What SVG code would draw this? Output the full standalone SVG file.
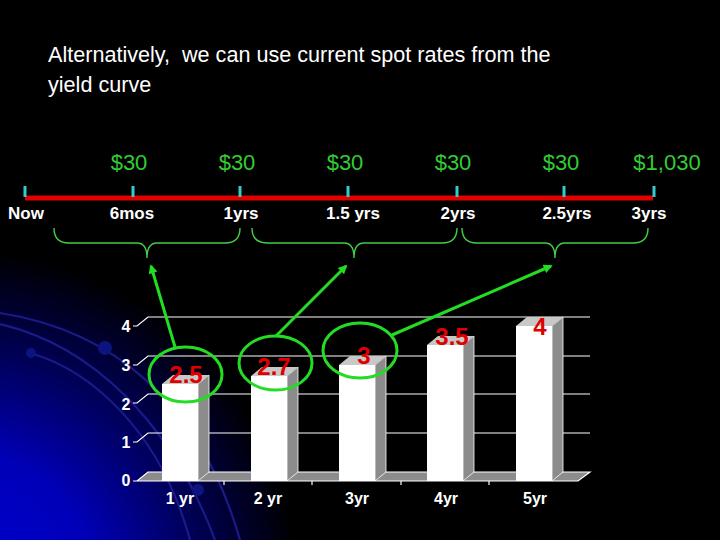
<svg xmlns="http://www.w3.org/2000/svg" width="720" height="540" viewBox="0 0 720 540">
<defs>
<radialGradient id="bg" gradientUnits="userSpaceOnUse" cx="-40" cy="590" r="340">
<stop offset="0" stop-color="#0000d4"/>
<stop offset="0.4" stop-color="#0000b8"/>
<stop offset="0.7" stop-color="#000058"/>
<stop offset="1" stop-color="#000000"/>
</radialGradient>
<marker id="ah" viewBox="0 0 10 10" refX="8" refY="5" markerWidth="3.6" markerHeight="3" orient="auto">
<path d="M0,0 L10,5 L0,10 z" fill="#22dd22"/>
</marker>
<style>
.t{font-family:"Liberation Sans",Arial,sans-serif;}
.title{font-size:21.6px;fill:#ffffff;}
.money{font-size:22px;fill:#33cc33;text-anchor:middle;}
.tl{font-size:17px;font-weight:bold;fill:#ffffff;text-anchor:middle;}
.ax{font-size:16px;font-weight:bold;fill:#ffffff;text-anchor:middle;}
.val{font-size:24px;font-weight:bold;fill:#e00000;text-anchor:middle;}
.tick{stroke:#33cccc;stroke-width:3;}
.brace{fill:none;stroke:#44cc44;stroke-width:1.4;}
.grid{stroke:#ffffff;stroke-width:1.2;fill:none;}
.front{fill:#ffffff;}
.top{fill:#c8c8c8;}
.side{fill:#8c8c8c;stroke:#ffffff;stroke-width:0.8;}
.ring{fill:none;stroke:#22dd22;stroke-width:3;}
.arrow{stroke:#22dd22;stroke-width:3;fill:none;}
.arc{fill:none;stroke:#1a1a88;stroke-width:2.2;}
.dot{fill:#0c1480;}
</style>
</defs>
<rect width="720" height="540" fill="#000000"/>
<rect width="720" height="540" fill="url(#bg)"/>
<g id="background-arcs">
<path class="arc" d="M 0 313 C 110 330 200 400 240 540"/>
<path class="arc" d="M 0 324 C 90 345 170 420 215 540"/>
<path class="arc" d="M 30 353 C 90 370 160 430 190 540"/>
<circle class="dot" cx="31" cy="353" r="5"/>
<circle class="dot" cx="105" cy="348" r="7"/>
<circle class="dot" cx="198" cy="490" r="6"/>
</g>
<g id="title">
<text class="t title" x="48" y="62" xml:space="preserve">Alternatively,  we can use current spot rates from the</text>
<text class="t title" x="48" y="92">yield curve</text>
</g>
<g id="timeline">
<line x1="25" y1="198" x2="653" y2="198" stroke="#e00000" stroke-width="5"/>
<line class="tick" x1="25" y1="186" x2="25" y2="197"/>
<line class="tick" x1="133" y1="186" x2="133" y2="197"/>
<line class="tick" x1="240" y1="186" x2="240" y2="197"/>
<line class="tick" x1="348" y1="186" x2="348" y2="197"/>
<line class="tick" x1="457" y1="186" x2="457" y2="197"/>
<line class="tick" x1="564" y1="186" x2="564" y2="197"/>
<line class="tick" x1="654" y1="186" x2="654" y2="197"/>
</g>
<g id="cash-flows">
<text class="t money" x="129" y="170">$30</text>
<text class="t money" x="237" y="170">$30</text>
<text class="t money" x="345" y="170">$30</text>
<text class="t money" x="453" y="170">$30</text>
<text class="t money" x="561" y="170">$30</text>
<text class="t money" x="667" y="170">$1,030</text>
</g>
<g id="time-labels">
<text class="t tl" x="26" y="219">Now</text>
<text class="t tl" x="132" y="219">6mos</text>
<text class="t tl" x="241" y="219">1yrs</text>
<text class="t tl" x="353" y="219">1.5 yrs</text>
<text class="t tl" x="458" y="219">2yrs</text>
<text class="t tl" x="567" y="219">2.5yrs</text>
<text class="t tl" x="649" y="219">3yrs</text>
</g>
<g id="braces">
<path class="brace" d="M 54 228 Q 54 243 69 243 L 137 243 Q 147 243 147 258 Q 147 243 157 243 L 225 243 Q 240 243 240 228"/>
<path class="brace" d="M 252 228 Q 252 243 267 243 L 344 243 Q 354 243 354 258 Q 354 243 364 243 L 442 243 Q 457 243 457 228"/>
<path class="brace" d="M 462 228 Q 462 243 477 243 L 545 243 Q 555 243 555 258 Q 555 243 565 243 L 633 243 Q 648 243 648 228"/>
</g>
<g id="chart">
<polygon points="137,481 148,472 590,472 578,481" fill="#8c8c8c"/>
<polyline class="grid" points="133,326 137,326 148,317 590,317"/>
<polyline class="grid" points="133,365 137,365 148,356 590,356"/>
<polyline class="grid" points="133,403 137,403 148,394 590,394"/>
<polyline class="grid" points="133,442 137,442 148,433 590,433"/>
<polyline class="grid" points="133,481 137,481 148,472 590,472 578,481 133,481"/>
<line class="grid" x1="224" y1="481" x2="224" y2="485"/>
<line class="grid" x1="312" y1="481" x2="312" y2="485"/>
<line class="grid" x1="401" y1="481" x2="401" y2="485"/>
<line class="grid" x1="489" y1="481" x2="489" y2="485"/>
<text class="t ax" x="126" y="332">4</text>
<text class="t ax" x="126" y="371">3</text>
<text class="t ax" x="126" y="410">2</text>
<text class="t ax" x="126" y="448">1</text>
<text class="t ax" x="126" y="486">0</text>
</g>
<g id="bar-1yr">
<polygon class="side" points="198,384 209,375 209,472 198,481"/>
<polygon class="top" points="162,384 173,375 209,375 198,384"/>
<rect class="front" x="162" y="384" width="36" height="97"/>
<text class="t ax" x="180" y="504">1 yr</text>
<text class="t val" x="186" y="383">2.5</text>
</g>
<g id="bar-2yr">
<polygon class="side" points="287,376 298,367 298,472 287,481"/>
<polygon class="top" points="251,376 262,367 298,367 287,376"/>
<rect class="front" x="251" y="376" width="36" height="105"/>
<text class="t ax" x="268" y="504">2 yr</text>
<text class="t val" x="274" y="375">2.7</text>
</g>
<g id="bar-3yr">
<polygon class="side" points="375,365 386,356 386,472 375,481"/>
<polygon class="top" points="339,365 350,356 386,356 375,365"/>
<rect class="front" x="339" y="365" width="36" height="116"/>
<text class="t ax" x="357" y="504">3yr</text>
<text class="t val" x="364" y="364">3</text>
</g>
<g id="bar-4yr">
<polygon class="side" points="463,345 474,336 474,472 463,481"/>
<polygon class="top" points="427,345 438,336 474,336 463,345"/>
<rect class="front" x="427" y="345" width="36" height="136"/>
<text class="t ax" x="446" y="504">4yr</text>
<text class="t val" x="452" y="345">3.5</text>
</g>
<g id="bar-5yr">
<polygon class="side" points="552,326 563,317 563,472 552,481"/>
<polygon class="top" points="516,326 527,317 563,317 552,326"/>
<rect class="front" x="516" y="326" width="36" height="155"/>
<text class="t ax" x="535" y="504">5yr</text>
<text class="t val" x="540" y="335">4</text>
</g>
<g id="highlights">
<ellipse class="ring" cx="185.5" cy="374.5" rx="36.5" ry="27.5"/>
<ellipse class="ring" cx="275.5" cy="363" rx="36.5" ry="27"/>
<ellipse class="ring" cx="360" cy="350.5" rx="37" ry="27.5"/>
</g>
<g id="connectors">
<line class="arrow" x1="175" y1="347" x2="151" y2="266" marker-end="url(#ah)"/>
<line class="arrow" x1="276" y1="336" x2="346" y2="266" marker-end="url(#ah)"/>
<line class="arrow" x1="392" y1="335" x2="551" y2="266" marker-end="url(#ah)"/>
</g>
</svg>
